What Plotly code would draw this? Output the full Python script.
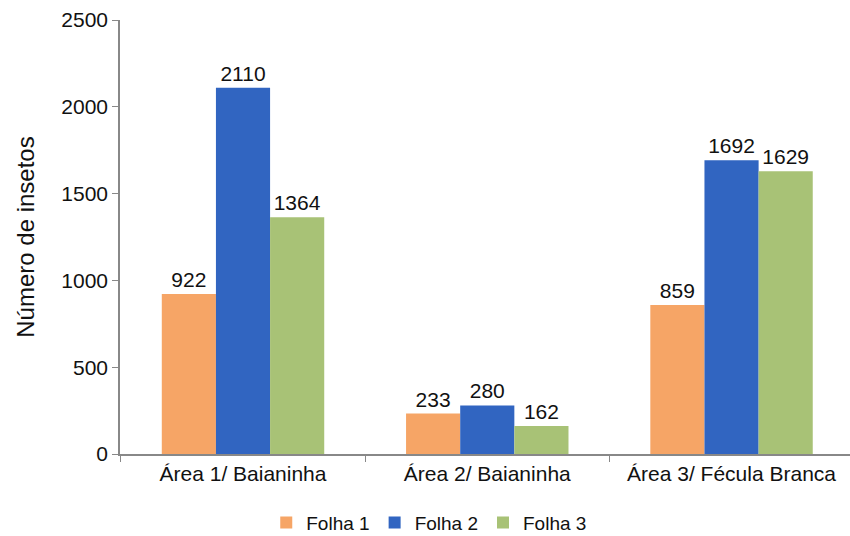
import plotly.graph_objects as go

categories = ["Área 1/ Baianinha", "Área 2/ Baianinha", "Área 3/ Fécula Branca"]
folha1 = [922, 233, 859]
folha2 = [2110, 280, 1692]
folha3 = [1364, 162, 1629]
series_names = ["Folha 1", "Folha 2", "Folha 3"]
colors = ["#F6A566", "#3165C1", "#A8C276"]

fig = go.Figure()
for name, vals, col in zip(series_names, [folha1, folha2, folha3], colors):
    fig.add_trace(go.Bar(
        x=categories, y=vals, name=name,
        marker=dict(color=col, line=dict(width=0)),
        text=[str(v) for v in vals], textposition="outside",
        textfont=dict(family="Liberation Sans, Arial", size=21, color="#111111"),
        cliponaxis=False,
    ))

fig.update_layout(
    width=850, height=536,
    margin=dict(l=120, r=0, t=20, b=82),
    paper_bgcolor="white", plot_bgcolor="white",
    barmode="group", bargap=0.335, bargroupgap=0,
    font=dict(family="Liberation Sans, Arial", size=21, color="#111111"),
    showlegend=True,
    legend=dict(orientation="h", xref="container", yref="container",
                x=0.505, xanchor="center", y=0.025, yanchor="middle",
                font=dict(size=19), itemwidth=30, traceorder="normal"),
    xaxis=dict(range=[-0.5036, 2.485], showline=True, linecolor="#888888", linewidth=1.5,
               ticks="outside", tickson="boundaries", ticklen=6, tickcolor="#888888",
               tickfont=dict(size=21), showgrid=False),
    yaxis=dict(range=[0, 2500], dtick=500, showline=True, linecolor="#888888", linewidth=1.5,
               ticks="outside", ticklen=6, tickcolor="#888888", showgrid=False,
               zeroline=False, tickfont=dict(size=21),
               title=dict(text="Número de insetos", font=dict(size=24), standoff=20)),
)

fig.write_html("out.html")
